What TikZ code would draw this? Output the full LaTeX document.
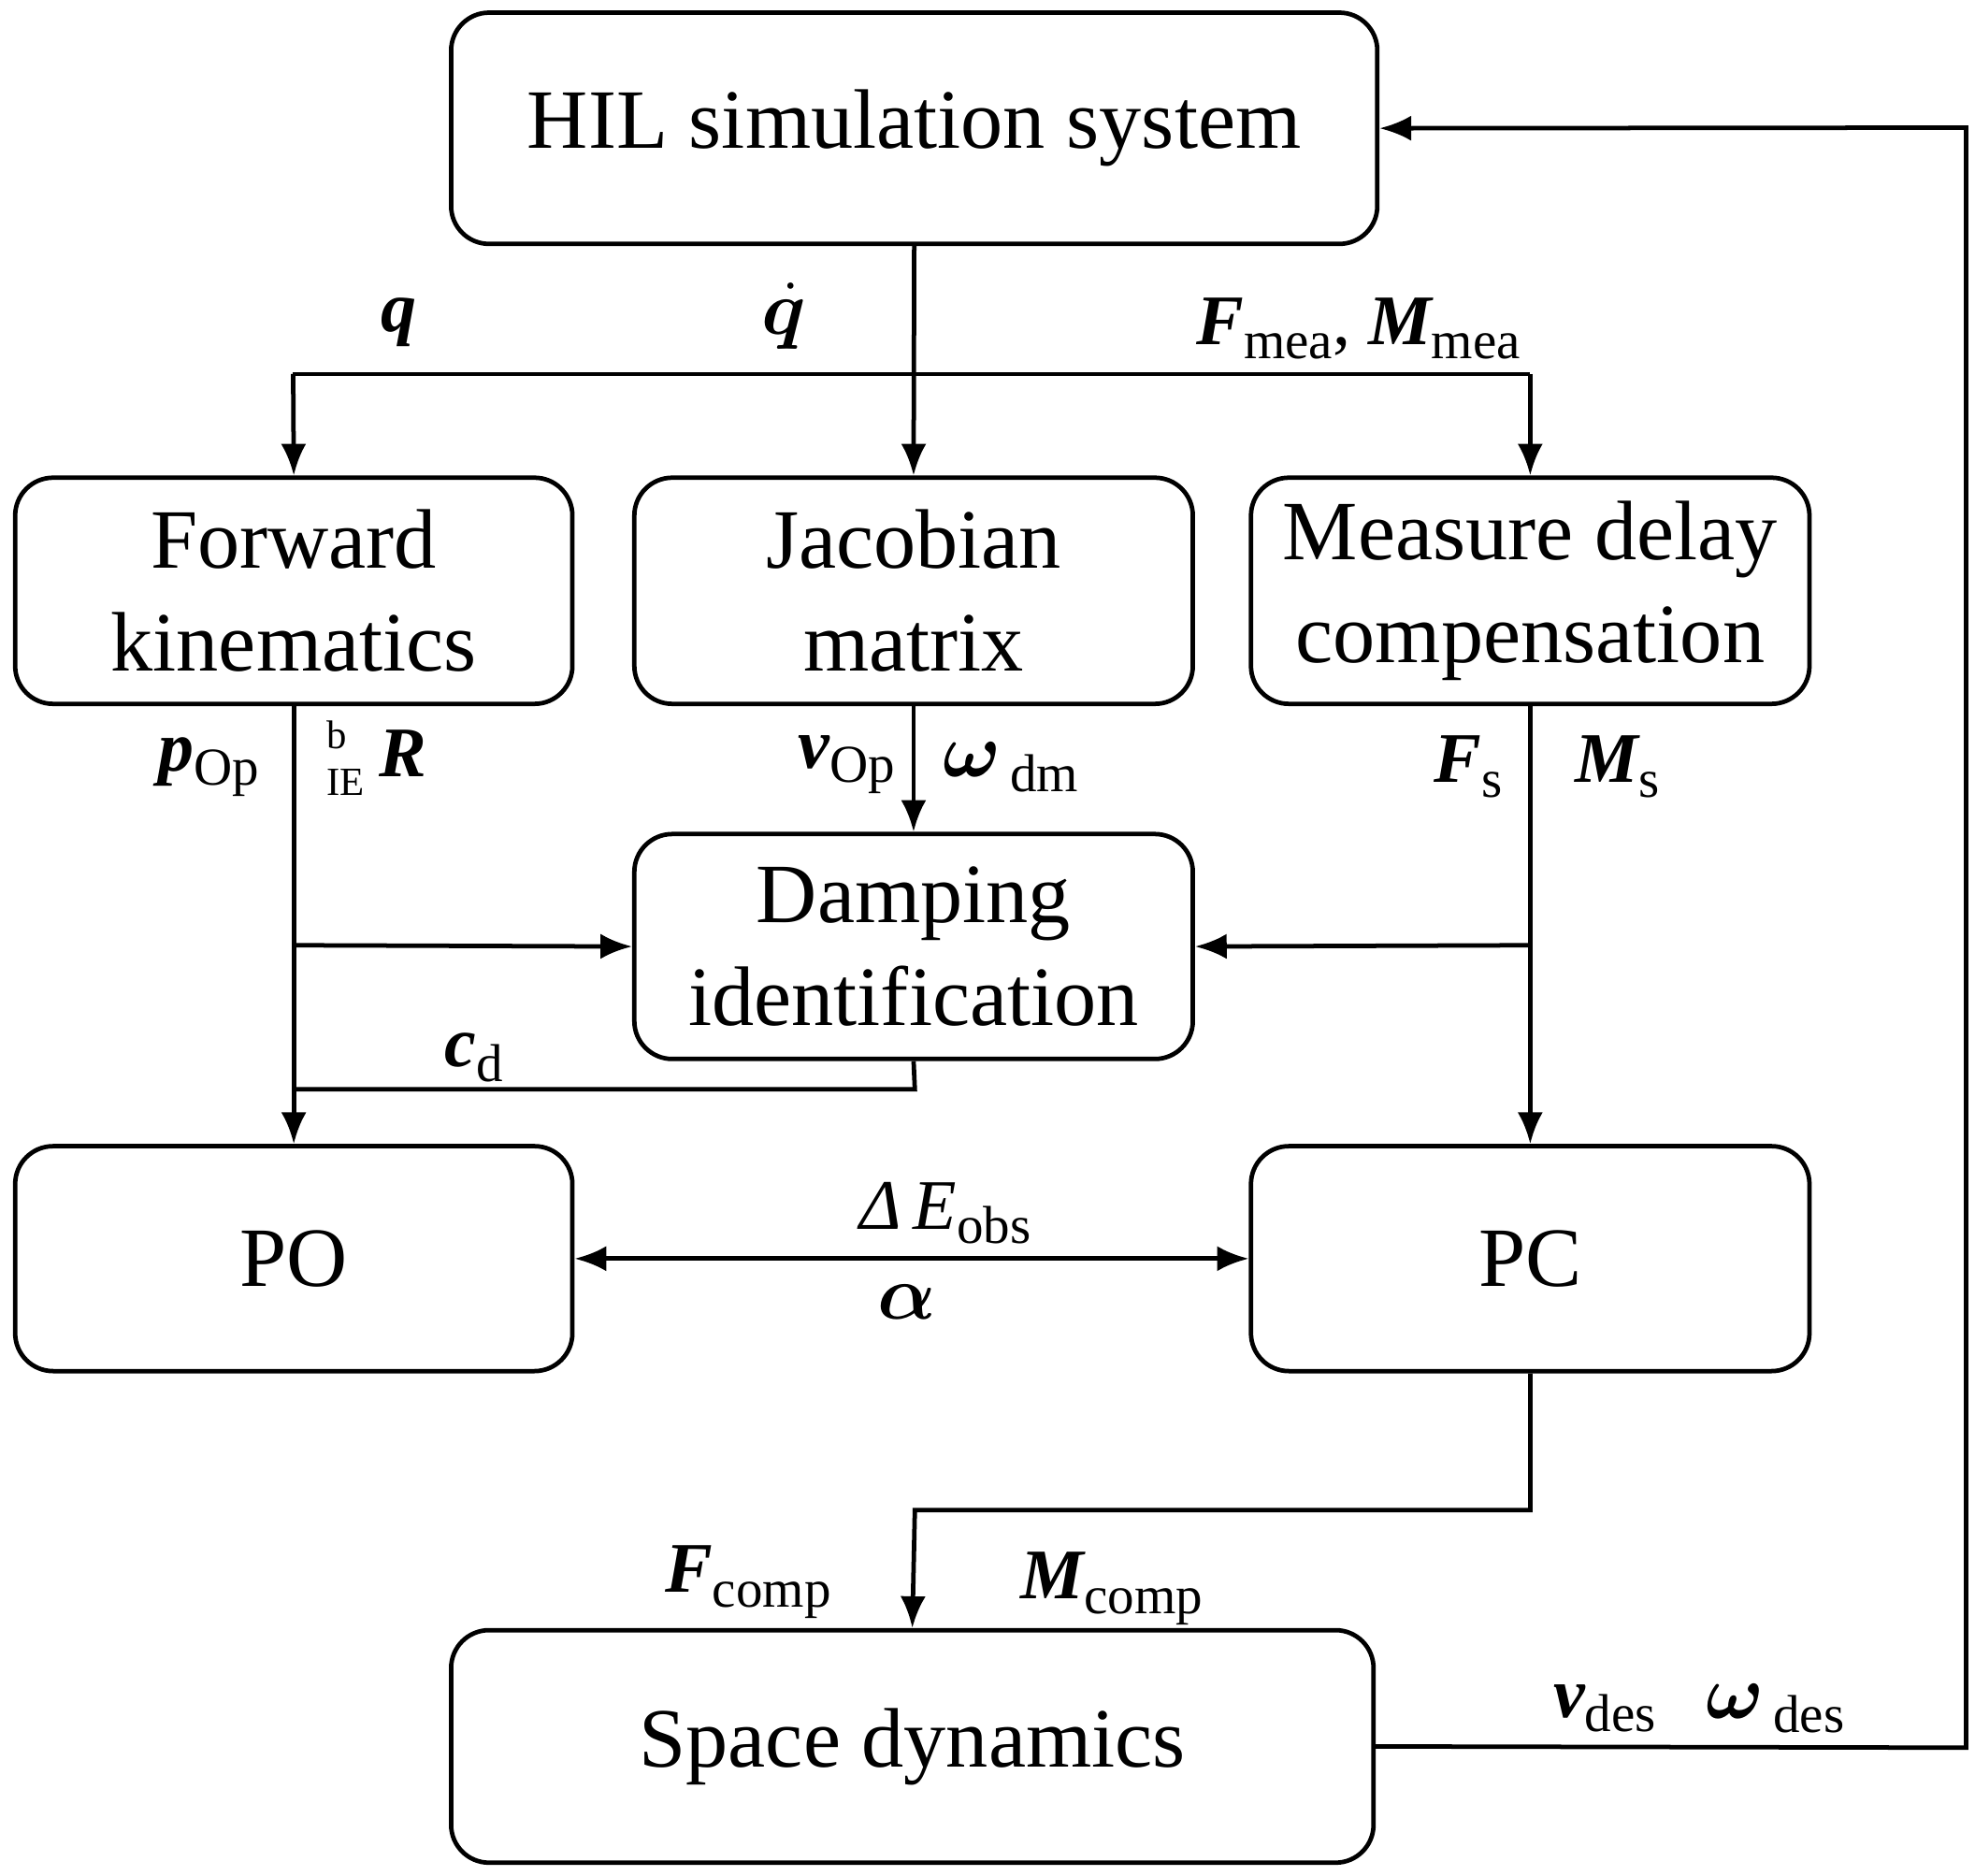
\documentclass[tikz,border=0pt]{standalone}
\usepackage{amsmath}
\usepackage{bm}
\usepackage{fontspec}
\setmainfont{Liberation Serif}
\usetikzlibrary{arrows.meta}
\newcommand\sbx[1]{\raisebox{-0.45ex}{\mdseries\upshape\fontsize{12}{14}\selectfont #1}}
\begin{document}
\begin{tikzpicture}[x=0.01cm,y=-0.01cm,
 box/.style={draw,line width=1pt,rounded corners=0.3cm,align=center,inner sep=0pt,font=\fontsize{19}{23}\selectfont},
 ln/.style={line width=1pt},
 ar/.style={ln,-{Latex[length=0.25cm,width=0.2cm]}},
 lb/.style={font=\fontsize{16}{18}\selectfont\bfseries\itshape,inner sep=0pt}]
\useasboundingbox (0,0) rectangle (1563,1484);
\newcommand\bx[6]{\node[box,minimum width={(#4-#2)*0.01cm},minimum height={(#5-#3)*0.01cm}] (#1) at ({(#2+#4)/2},{(#3+#5)/2}) {#6};}
\bx{hil}{357}{10}{1090}{193}{HIL simulation system}
\bx{fk}{12}{378}{453}{557}{Forward\\kinematics}
\bx{jm}{502}{378}{944}{557}{Jacobian\\matrix}
\bx{md}{990}{378}{1432}{557}{Measure delay\\compensation}
\bx{di}{502}{660}{944}{838}{Damping\\identification}
\bx{po}{12}{907}{453}{1085}{PO}
\bx{pc}{990}{907}{1432}{1085}{PC}
\bx{sd}{357}{1290}{1087}{1474}{Space dynamics}
\coordinate (t1) at (232,296); \coordinate (t2) at (1211,296);
\coordinate (b1) at (232,748); \coordinate (b2) at (1211,748);
\coordinate (c1) at (724,862); \coordinate (c2) at (232,862);
\coordinate (p1) at (1211,1195); \coordinate (p2) at (724,1195);
\coordinate (s1) at (1556,1383); \coordinate (s2) at (1556,101);
\draw[ar] (hil.south) -- (jm.north);
\draw[ln] (t1) -- (t2);
\draw[ar] (t1) -- (fk.north);
\draw[ar] (t2) -- (md.north);
\draw[ar] (fk.south) -- (po.north);
\draw[ar] (b1) -- (di.west);
\draw[ar] (jm.south) -- (di.north);
\draw[ar] (md.south) -- (pc.north);
\draw[ar] (b2) -- (di.east);
\draw[ln] (di.south) -- (c1) -- (c2);
\draw[ln,{Latex[length=0.25cm,width=0.2cm]}-{Latex[length=0.25cm,width=0.2cm]}] (po.east) -- (pc.west);
\draw[ar] (pc.south) -- (p1) -- (p2) -- (sd.north);
\draw[ar] (sd.east) -- (s1) -- (s2) -- (hil.east);
\node[lb] (lq) at (316,255) {q};
\node[lb] (lqd) at (620,250) {$\dot{\bm{q}}$};
\node[lb] (lf) at (1075,260) {F\sbx{mea}\textmd{\upshape,} M\sbx{mea}};
\node[lb] (lp) at (165,607) {p\sbx{Op}};
\node[lb] (lr) at (298,600) {$\vphantom{R}^{\textmd{\upshape\fontsize{9}{10}\selectfont b}}_{\textmd{\upshape\fontsize{9}{10}\selectfont IE}}$\,R};
\node[lb] (lv) at (670,605) {v\sbx{Op}};
\node[lb] (lw) at (800,607) {$\bm{\omega}$\sbx{\,dm}};
\node[lb] (lfs) at (1162,607) {F\sbx{s}};
\node[lb] (lms) at (1280,607) {M\sbx{s}};
\node[lb] (lc) at (375,837) {c\sbx{d}};
\node[lb] (le) at (748,960) {\mdseries\itshape Δ\,E\sbx{obs}};
\node[lb] (la) at (718,1030) {$\bm{\alpha}$};
\node[lb] (lfc) at (592,1252) {F\sbx{comp}};
\node[lb] (lmc) at (880,1257) {M\sbx{comp}};
\node[lb] (lvd) at (1270,1352) {v\sbx{des}};
\node[lb] (lwd) at (1405,1352) {$\bm{\omega}$\sbx{\,des}};
\end{tikzpicture}
\end{document}
